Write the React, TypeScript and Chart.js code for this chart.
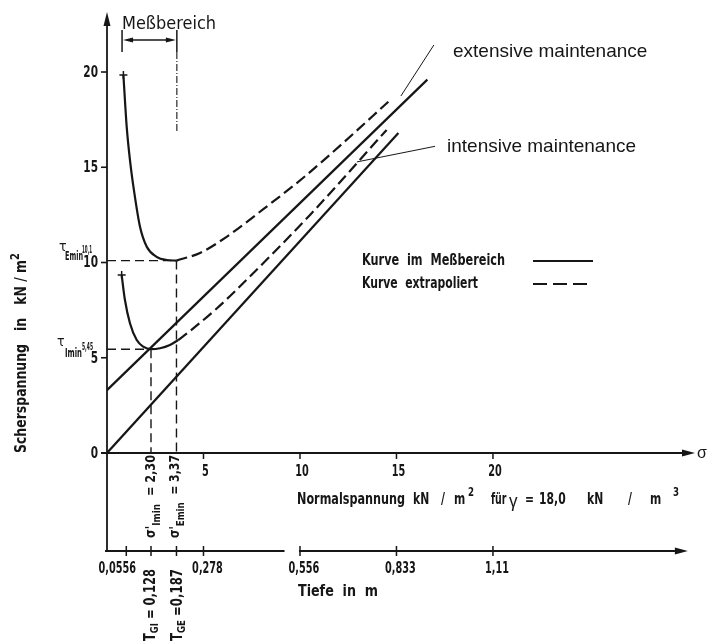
import React, { useEffect, useRef } from "react";
import { Chart, registerables } from "chart.js";

Chart.register(...registerables);

// ---------------- data ----------------
// extensive maintenance curve (E)
const sigmaEMeasured = [0.85, 1.02, 1.19, 1.42, 1.71, 2.06, 2.57, 3.09, 3.6];
const tauEMeasured = [19.84, 17.13, 15.38, 13.63, 11.88, 10.83, 10.3, 10.13, 10.1];
const sigmaEExtrapolated = [3.6, 4.82, 6.2, 8.1, 10.17, 12.24, 14.58];
const tauEExtrapolated = [10.1, 10.5, 11.35, 12.8, 14.45, 16.28, 18.44];
// intensive maintenance curve (I)
const sigmaIMeasured = [0.76, 0.93, 1.19, 1.54, 1.88, 2.28, 2.75, 3.26, 3.69];
const tauIMeasured = [9.34, 8.03, 6.81, 5.93, 5.58, 5.45, 5.5, 5.67, 5.93];
const sigmaIExtrapolated = [3.69, 4.3, 5.7, 6.54, 10.52, 14.49];
const tauIExtrapolated = [5.93, 6.4, 7.6, 8.4, 12.5, 16.96];
// straight solid lines
const sigmaUpperLine = [0, 16.6];
const tauUpperLine = [3.3, 19.6];
const sigmaLowerLine = [0, 15.1];
const tauLowerLine = [0, 16.8];
// minima
const tauEMin = 10.1;
const sigmaEMin = 3.6;
const tauEMinLabel = "10,1";
const sigmaEMinLabel = "3,37";
const depthEMinLabel = "0,187";
const tauIMin = 5.45;
const sigmaIMin = 2.28;
const tauIMinLabel = "5,45";
const sigmaIMinLabel = "2,30";
const depthIMinLabel = "0,128";
// measuring range (Meßbereich)
const measuringRange = [0.78, 3.62];
// axes
const xMin = 0;
const xMax = 30.47;
const yMin = -5.144;
const yMax = 23.15;
const xTickValues = [5, 10, 15, 20];
const xTickLabels = ["5", "10", "15", "20"];
const yTickValues = [0, 5, 10, 15, 20];
const yTickLabels = ["0", "5", "10", "15", "20"];
const depthTickSigma = [1, 5, 10, 15, 20];
const depthTickLabels = ["0,0556", "0,278", "0,556", "0,833", "1,11"];
const depthAxisGap = [9.2, 9.95];
const depthAxisEnd = 30.1;
// leader lines of the two annotations (sigma, tau)
const extensiveLeader = [[16.94, 21.42], [15.23, 18.74]];
const intensiveLeader = [[17.0, 16.1], [12.95, 15.28]];

// ---------------- drawing helpers ----------------
const INK = "#161616";
const COND = '"DejaVu Sans Condensed", "DejaVu Sans", sans-serif';
const ARIAL = '"Liberation Sans", Arial, sans-serif';

type Run = { t: string; size: number; dy?: number; weight?: string; family?: string };

function drawRuns(
  ctx: CanvasRenderingContext2D,
  runs: Run[],
  x: number,
  y: number,
  opts: { width?: number; sx?: number; rot?: number; align?: "left" | "center" | "right"; baseline?: CanvasTextBaseline } = {}
) {
  const { width, rot = 0, align = "left", baseline = "alphabetic" } = opts;
  ctx.save();
  ctx.fillStyle = INK;
  ctx.textBaseline = baseline;
  ctx.textAlign = "left";
  const widths = runs.map((r) => {
    ctx.font = `${r.weight ?? "bold"} ${r.size}px ${r.family ?? COND}`;
    return ctx.measureText(r.t).width;
  });
  const total = widths.reduce((a, b) => a + b, 0);
  const sx = width ? width / total : opts.sx ?? 1;
  const drawn = total * sx;
  ctx.translate(x, y);
  if (rot) ctx.rotate(rot);
  const ox = align === "center" ? -drawn / 2 : align === "right" ? -drawn : 0;
  ctx.translate(ox, 0);
  ctx.scale(sx, 1);
  let cx = 0;
  runs.forEach((r, i) => {
    ctx.font = `${r.weight ?? "bold"} ${r.size}px ${r.family ?? COND}`;
    ctx.fillText(r.t, cx, r.dy ?? 0);
    cx += widths[i];
  });
  ctx.restore();
}

function line(ctx: CanvasRenderingContext2D, x1: number, y1: number, x2: number, y2: number, w = 1.4, dash: number[] = []) {
  ctx.save();
  ctx.strokeStyle = INK;
  ctx.lineWidth = w;
  ctx.setLineDash(dash);
  ctx.beginPath();
  ctx.moveTo(x1, y1);
  ctx.lineTo(x2, y2);
  ctx.stroke();
  ctx.restore();
}

function tri(ctx: CanvasRenderingContext2D, pts: number[][]) {
  ctx.save();
  ctx.fillStyle = INK;
  ctx.beginPath();
  ctx.moveTo(pts[0][0], pts[0][1]);
  pts.slice(1).forEach((p) => ctx.lineTo(p[0], p[1]));
  ctx.closePath();
  ctx.fill();
  ctx.restore();
}

const toXY = (xs: number[], ys: number[]) => xs.map((x, i) => ({ x, y: ys[i] }));

const axesPlugin = {
  id: "technicalAxes",
  afterDraw(chart: any) {
    const ctx: CanvasRenderingContext2D = chart.ctx;
    const sx = chart.scales.x;
    const sy = chart.scales.y;
    const px = (v: number) => sx.getPixelForValue(v);
    const py = (v: number) => sy.getPixelForValue(v);
    const x0 = px(0);
    const y0 = py(0);
    const yb = py(yMin);
    const yt = py(yMax);
    const T = 15; // tick font size

    // y axis (runs down to depth axis)
    line(ctx, x0, yb, x0, yt + 6, 1.8);
    tri(ctx, [[x0, yt], [x0 - 3.5, yt + 14], [x0 + 3.5, yt + 14]]);
    yTickValues.forEach((v, i) => {
      line(ctx, x0 - 6, py(v), x0, py(v), 1.6);
      drawRuns(ctx, [{ t: yTickLabels[i], size: T }], x0 - 9, py(v) + 1, { align: "right", baseline: "middle", sx: 0.78 });
    });

    // sigma axis
    const xr = px(xMax);
    line(ctx, x0 - 6, y0, xr - 6, y0, 1.8);
    tri(ctx, [[xr, y0], [xr - 13, y0 - 3.5], [xr - 13, y0 + 3.5]]);
    drawRuns(ctx, [{ t: "σ", size: 16, weight: "normal", family: ARIAL }], xr + 2, y0 + 1, { baseline: "middle" });
    xTickValues.forEach((v, i) => {
      line(ctx, px(v), y0, px(v), y0 + 6, 1.5);
      drawRuns(ctx, [{ t: xTickLabels[i], size: T }], px(v) + 2, y0 + 19, { align: "center", baseline: "middle", sx: 0.72 });
    });

    // depth axis (broken)
    line(ctx, x0 - 2, yb, px(depthAxisGap[0]), yb, 1.8);
    const xe = px(depthAxisEnd);
    line(ctx, px(depthAxisGap[1]), yb, xe - 6, yb, 1.8);
    tri(ctx, [[xe, yb], [xe - 13, yb - 3.5], [xe - 13, yb + 3.5]]);
    [...depthTickSigma, sigmaIMin, sigmaEMin].forEach((v) => line(ctx, px(v), yb - 5, px(v), yb + 5, 1.5));
    depthTickLabels.forEach((lab, i) => {
      const cx = i === 0 ? px(depthTickSigma[i]) - 9 : px(depthTickSigma[i]) + 4;
      drawRuns(ctx, [{ t: lab, size: T }], cx, yb + 18, { align: "center", baseline: "middle", sx: 0.72 });
    });

    // axis titles
    drawRuns(ctx, [{ t: "Scherspannung   in   kN / m", size: 15 }, { t: "2", size: 12, dy: -7 }], 26, 453, { rot: -Math.PI / 2, width: 200 });
    drawRuns(ctx, [{ t: "Normalspannung", size: 15 }], 297, 504, { width: 108 });
    drawRuns(ctx, [{ t: "kN", size: 15 }], 413, 504, { sx: 0.8 });
    drawRuns(ctx, [{ t: "/", size: 15 }], 441, 504, { sx: 0.8 });
    drawRuns(ctx, [{ t: "m", size: 15 }], 454, 504, { sx: 0.8 });
    drawRuns(ctx, [{ t: "2", size: 12 }], 468, 496, { sx: 0.8 });
    drawRuns(ctx, [{ t: "für", size: 15 }], 491, 504, { sx: 0.7 });
    drawRuns(ctx, [{ t: "γ", size: 19, weight: "normal", family: ARIAL }], 509, 507, { sx: 0.9 });
    drawRuns(ctx, [{ t: "=", size: 15 }], 525, 504, { sx: 0.8 });
    drawRuns(ctx, [{ t: "18,0", size: 15 }], 539, 504, { sx: 0.8 });
    drawRuns(ctx, [{ t: "kN", size: 15 }], 587, 504, { sx: 0.8 });
    drawRuns(ctx, [{ t: "/", size: 15 }], 628, 504, { sx: 0.8 });
    drawRuns(ctx, [{ t: "m", size: 15 }], 650, 504, { sx: 0.8 });
    drawRuns(ctx, [{ t: "3", size: 12 }], 673, 496, { sx: 0.8 });
    drawRuns(ctx, [{ t: "Tiefe  in  m", size: 15 }], 298, 596, { width: 80 });

    // minimum labels on tau axis
    drawRuns(ctx, [{ t: "τ", size: 14, weight: "normal" }], 59, py(tauEMin) - 10, {});
    drawRuns(ctx, [{ t: "Emin", size: 12 }], 65, py(tauEMin) - 1, { width: 18 });
    drawRuns(ctx, [{ t: tauEMinLabel, size: 11 }], 82, py(tauEMin) - 8, { width: 10 });
    drawRuns(ctx, [{ t: "τ", size: 14, weight: "normal" }], 57, py(tauIMin) - 3, {});
    drawRuns(ctx, [{ t: "Imin", size: 12 }], 65, py(tauIMin) + 8, { width: 17 });
    drawRuns(ctx, [{ t: tauIMinLabel, size: 11 }], 82, py(tauIMin) + 1, { width: 11 });

    // minimum labels under sigma axis (rotated)
    drawRuns(
      ctx,
      [{ t: "σ'", size: 14 }, { t: "Imin", size: 11, dy: 6 }, { t: "  = " + sigmaIMinLabel, size: 14 }],
      px(sigmaIMin),
      538,
      { rot: -Math.PI / 2, baseline: "middle", width: 83 }
    );
    drawRuns(
      ctx,
      [{ t: "σ'", size: 14 }, { t: "Emin", size: 11, dy: 6 }, { t: "  = " + sigmaEMinLabel, size: 14 }],
      px(sigmaEMin) - 1,
      538,
      { rot: -Math.PI / 2, baseline: "middle", width: 83 }
    );
    drawRuns(
      ctx,
      [{ t: "T", size: 15 }, { t: "GI", size: 11, dy: 4 }, { t: " = " + depthIMinLabel, size: 15 }],
      px(sigmaIMin),
      641,
      { rot: -Math.PI / 2, baseline: "middle", width: 72 }
    );
    drawRuns(
      ctx,
      [{ t: "T", size: 15 }, { t: "GE", size: 11, dy: 4 }, { t: " =" + depthEMinLabel, size: 15 }],
      px(sigmaEMin) + 2,
      641,
      { rot: -Math.PI / 2, baseline: "middle", width: 72 }
    );

    // measuring range bracket
    const m0 = px(measuringRange[0]);
    const m1 = px(measuringRange[1]);
    line(ctx, m0, 30, m0, 52, 1.5);
    line(ctx, m1, 30, m1, 52, 1.5);
    line(ctx, m0 + 6, 40, m1 - 6, 40, 1.3);
    tri(ctx, [[m0 + 1, 40], [m0 + 11, 37.5], [m0 + 11, 42.5]]);
    tri(ctx, [[m1 - 1, 40], [m1 - 11, 37.5], [m1 - 11, 42.5]]);
    line(ctx, m1, 52, m1, 133, 1.1, [7, 2, 1, 2]);
    drawRuns(ctx, [{ t: "Meßbereich", size: 17, weight: "normal" }], 122, 29, { width: 94 });

    // legend
    drawRuns(ctx, [{ t: "Kurve  im  Meßbereich", size: 15 }], 362, 265, { width: 143 });
    drawRuns(ctx, [{ t: "Kurve  extrapoliert", size: 15 }], 362, 288, { width: 116 });
    line(ctx, 533, 261, 593, 261, 2);
    line(ctx, 533, 284, 592, 284, 2, [14, 6]);

    // annotations
    const e = extensiveLeader.map((p) => [px(p[0]), py(p[1])]);
    line(ctx, e[0][0], e[0][1], e[1][0], e[1][1], 1);
    const n = intensiveLeader.map((p) => [px(p[0]), py(p[1])]);
    line(ctx, n[0][0], n[0][1], n[1][0], n[1][1], 1);
    drawRuns(ctx, [{ t: "extensive maintenance", size: 19, weight: "normal", family: ARIAL }], 453, 57, {});
    drawRuns(ctx, [{ t: "intensive maintenance", size: 19, weight: "normal", family: ARIAL }], 447, 152, {});
  },
};

export default function App() {
  const ref = useRef<HTMLCanvasElement | null>(null);
  useEffect(() => {
    if (!ref.current) return;
    const curve = (data: any[], dash: number[] = [], mark = false) => ({
      data,
      showLine: true,
      borderColor: INK,
      backgroundColor: INK,
      borderWidth: 2.2,
      borderDash: dash,
      cubicInterpolationMode: "monotone" as const,
      pointStyle: "cross",
      pointRadius: (c: any) => (mark && c.dataIndex === 0 ? 4 : 0),
      pointBorderWidth: 1.5,
      pointBorderColor: INK,
    });
    const ref2 = (data: any[]) => ({
      data,
      showLine: true,
      borderColor: INK,
      borderWidth: 1.4,
      borderDash: [9, 5],
      pointRadius: 0,
      tension: 0,
    });
    const chart = new Chart(ref.current, {
      type: "scatter",
      data: {
        datasets: [
          ref2([{ x: 0, y: tauEMin }, { x: sigmaEMin, y: tauEMin }]),
          ref2([{ x: 0, y: tauIMin }, { x: sigmaIMin, y: tauIMin }]),
          ref2([{ x: sigmaEMin, y: tauEMin }, { x: sigmaEMin, y: 0 }]),
          ref2([{ x: sigmaIMin, y: tauIMin }, { x: sigmaIMin, y: 0 }]),
          curve(toXY(sigmaEMeasured, tauEMeasured), [], true),
          curve(toXY(sigmaEExtrapolated, tauEExtrapolated), [11, 5]),
          curve(toXY(sigmaIMeasured, tauIMeasured), [], true),
          curve(toXY(sigmaIExtrapolated, tauIExtrapolated), [11, 5]),
          curve(toXY(sigmaUpperLine, tauUpperLine)),
          curve(toXY(sigmaLowerLine, tauLowerLine)),
        ] as any,
      },
      options: {
        responsive: false,
        animation: false,
        layout: { padding: { left: 107, right: 12, top: 12, bottom: 92 } },
        plugins: { legend: { display: false }, tooltip: { enabled: false } },
        scales: {
          x: { type: "linear", min: xMin, max: xMax, display: false },
          y: { type: "linear", min: yMin, max: yMax, display: false },
        },
      },
      plugins: [axesPlugin],
    });
    return () => chart.destroy();
  }, []);
  return (
    <div style={{ position: "absolute", left: 0, top: 0, width: 707, height: 643, background: "#fff" }}>
      <canvas ref={ref} width={707} height={643} style={{ width: 707, height: 643, display: "block" }} />
    </div>
  );
}
